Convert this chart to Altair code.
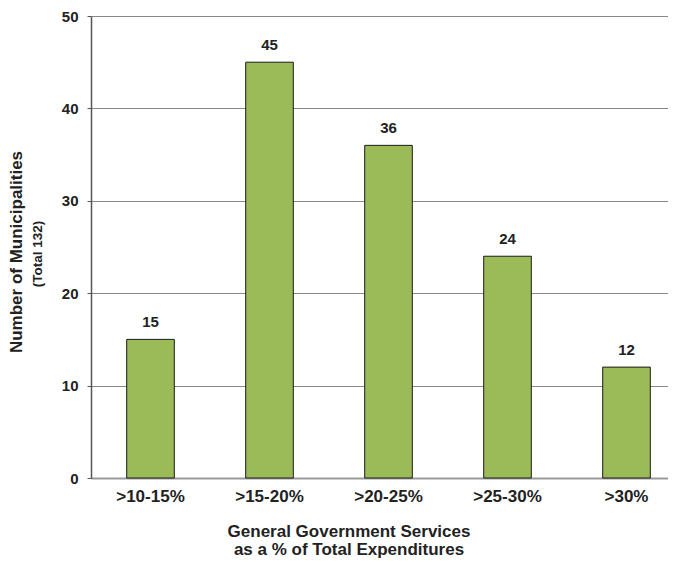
import altair as alt
import pandas as pd

categories = [">10-15%", ">15-20%", ">20-25%", ">25-30%", ">30%"]
counts = [15, 45, 36, 24, 12]

df = pd.DataFrame({"cat": categories, "n": counts})
FONT = "Liberation Sans"
INK = "#222"

base = alt.Chart(df)

bars = base.mark_bar(color="#9BBB59", stroke="#1a1a1a", strokeWidth=1).encode(
    x=alt.X("cat:N", sort=categories,
            scale=alt.Scale(paddingInner=0.6, paddingOuter=0.3),
            axis=alt.Axis(title=None, labelAngle=0, ticks=False, labelPadding=10,
                          labelFont=FONT, labelFontSize=17, labelFontWeight="bold",
                          labelColor=INK, domainColor="#999", domainWidth=2)),
    y=alt.Y("n:Q", scale=alt.Scale(domain=[0, 50]),
            axis=alt.Axis(title=None, values=[0, 10, 20, 30, 40, 50], tickSize=4,
                          tickColor="#555", domainColor="#555", domainWidth=1.5,
                          gridColor="#888", gridWidth=1.2, labelPadding=9,
                          labelFont=FONT, labelFontSize=15, labelFontWeight="bold",
                          labelColor=INK)),
)

labels = base.mark_text(dy=-9, baseline="bottom", font=FONT, fontSize=15,
                        fontWeight="bold", color=INK).encode(
    x=alt.X("cat:N", sort=categories), y="n:Q", text="n:Q")

ytitle1 = alt.Chart(pd.DataFrame({"t": ["Number of Municipalities"]})).mark_text(
    angle=270, font=FONT, fontSize=17, fontWeight="bold", color=INK).encode(
    x=alt.value(-74), y=alt.value(236), text="t:N")
ytitle2 = alt.Chart(pd.DataFrame({"t": ["(Total 132)"]})).mark_text(
    angle=270, font=FONT, fontSize=13.5, fontWeight="bold", color=INK).encode(
    x=alt.value(-53), y=alt.value(238), text="t:N")
xtitle1 = alt.Chart(pd.DataFrame({"t": ["General Government Services"]})).mark_text(
    font=FONT, fontSize=17, fontWeight="bold", color=INK).encode(
    x=alt.value(258), y=alt.value(516), text="t:N")
xtitle2 = alt.Chart(pd.DataFrame({"t": ["as a % of Total Expenditures"]})).mark_text(
    font=FONT, fontSize=17, fontWeight="bold", color=INK).encode(
    x=alt.value(258), y=alt.value(534), text="t:N")

chart = alt.layer(bars, labels, ytitle1, ytitle2, xtitle1, xtitle2).properties(
    width=595, height=462,
    autosize=alt.AutoSizeParams(type="none"),
    padding={"left": 83, "top": 8, "right": -18, "bottom": 82},
).configure_view(stroke=None).configure_axisX(grid=False)

chart.save("out.html", embed_options={"renderer": "svg", "actions": False})
